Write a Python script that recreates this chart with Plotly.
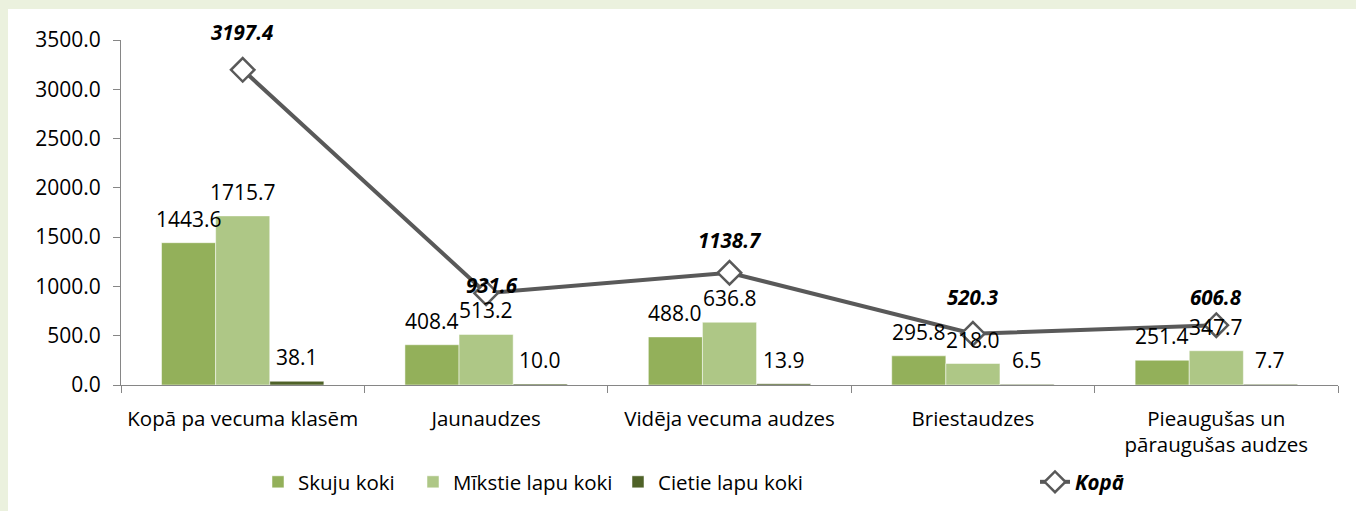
import plotly.graph_objects as go

categories = ["Kopā pa vecuma klasēm", "Jaunaudzes", "Vidēja vecuma audzes",
              "Briestaudzes", "Pieaugušas un<br>pāraugušas audzes"]
skuju = [1443.6, 408.4, 488.0, 295.8, 251.4]
mikstie = [1715.7, 513.2, 636.8, 218.0, 347.7]
cietie = [38.1, 10.0, 13.9, 6.5, 7.7]
kopa = [3197.4, 931.6, 1138.7, 520.3, 606.8]
y_ticks = [0, 500, 1000, 1500, 2000, 2500, 3000, 3500]

W, H = 1356, 511
ML, MR, MT, MB = 121, 18, 40, 126
PW, PH = W - ML - MR, H - MT - MB
BARGAP = 0.333

def px_x(px):
    return (px - ML) / PW

def px_y(py):
    return (H - MB - py) / PH

FONT = "Open Sans"
FS = 20.5      # text labels
FN = 21        # numeric labels
fig = go.Figure()

bar_specs = [("Skuju koki", skuju, "#93B05A", "legend2"),
             ("Mīkstie lapu koki", mikstie, "#AEC786", "legend3"),
             ("Cietie lapu koki", cietie, "#4F6228", "legend4")]
n_bars = len(bar_specs)
bar_w_px = PW / len(categories) * (1 - BARGAP) / n_bars
for i, (name, vals, col, lg) in enumerate(bar_specs):
    fig.add_trace(go.Bar(
        x=categories, y=vals, name=name, legend=lg,
        marker=dict(color=col, line=dict(color="white", width=0.5)),
    ))
    offset = (i - (n_bars - 1) / 2) * bar_w_px
    for c, v in zip(categories, vals):
        fig.add_annotation(x=c, y=v, text=f"{v:.1f}", showarrow=False,
                           xshift=offset, yshift=8, yanchor="bottom",
                           font=dict(family=FONT, size=FN, color="#000000"))

fig.add_trace(go.Scatter(
    x=categories, y=kopa, name="<b><i>Kopā</i></b>", legend="legend5",
    mode="lines+markers",
    line=dict(color="#595959", width=4),
    marker=dict(symbol="diamond", size=18, color="white",
                line=dict(color="#595959", width=2.5)),
    cliponaxis=False,
))

label_shift = [38, 8, 33, 37, 28]
label_xshift = [0, 6, 0, 0, 0]
for c, v, dy, dx in zip(categories, kopa, label_shift, label_xshift):
    fig.add_annotation(x=c, y=v, text=f"<b><i>{v:.1f}</i></b>", showarrow=False,
                       yshift=dy, xshift=dx, yanchor="middle",
                       font=dict(family=FONT, size=FS, color="#000000"))

# light green frame strips (top and left)
GREEN = "#EBF1DE"
fig.add_shape(type="rect", xref="paper", yref="paper", layer="below",
              x0=px_x(0), x1=px_x(W), y0=px_y(9), y1=px_y(0),
              fillcolor=GREEN, line=dict(width=0))
fig.add_shape(type="rect", xref="paper", yref="paper", layer="below",
              x0=px_x(0), x1=px_x(8), y0=px_y(H), y1=px_y(0),
              fillcolor=GREEN, line=dict(width=0))

leg_common = dict(orientation="h", yanchor="middle", y=px_y(482), xanchor="left",
                  font=dict(family=FONT, size=FS, color="#000000"),
                  bgcolor="rgba(0,0,0,0)", borderwidth=0)
fig.update_layout(
    width=W, height=H,
    margin=dict(l=ML, r=MR, t=MT, b=MB, pad=0, autoexpand=False),
    paper_bgcolor="white", plot_bgcolor="white",
    font=dict(family=FONT, size=FS, color="#000000"),
    barmode="group", bargap=BARGAP, bargroupgap=0,
    showlegend=True,
    legend2=dict(x=px_x(258), **leg_common),
    legend3=dict(x=px_x(413), **leg_common),
    legend4=dict(x=px_x(618), **leg_common),
    legend5=dict(x=px_x(1035), **leg_common),
    xaxis=dict(showline=True, linecolor="#868686", linewidth=1,
               ticks="outside", tickson="boundaries", ticklen=7, tickcolor="#868686",
               showgrid=False, ticklabelstandoff=15,
               tickfont=dict(family=FONT, size=FS)),
    yaxis=dict(range=[0, 3500], tickvals=y_ticks, tickformat=".1f",
               showline=True, linecolor="#868686", linewidth=1,
               ticks="outside", ticklen=7, tickcolor="#868686",
               showgrid=False, zeroline=False, ticklabelstandoff=8,
               tickfont=dict(family=FONT, size=FN)),
)

fig.write_html("out.html", config={"displayModeBar": False},
               post_script="document.body.style.margin='0';"
                           "document.body.style.overflow='hidden';"
                           "document.documentElement.style.overflow='hidden';")
